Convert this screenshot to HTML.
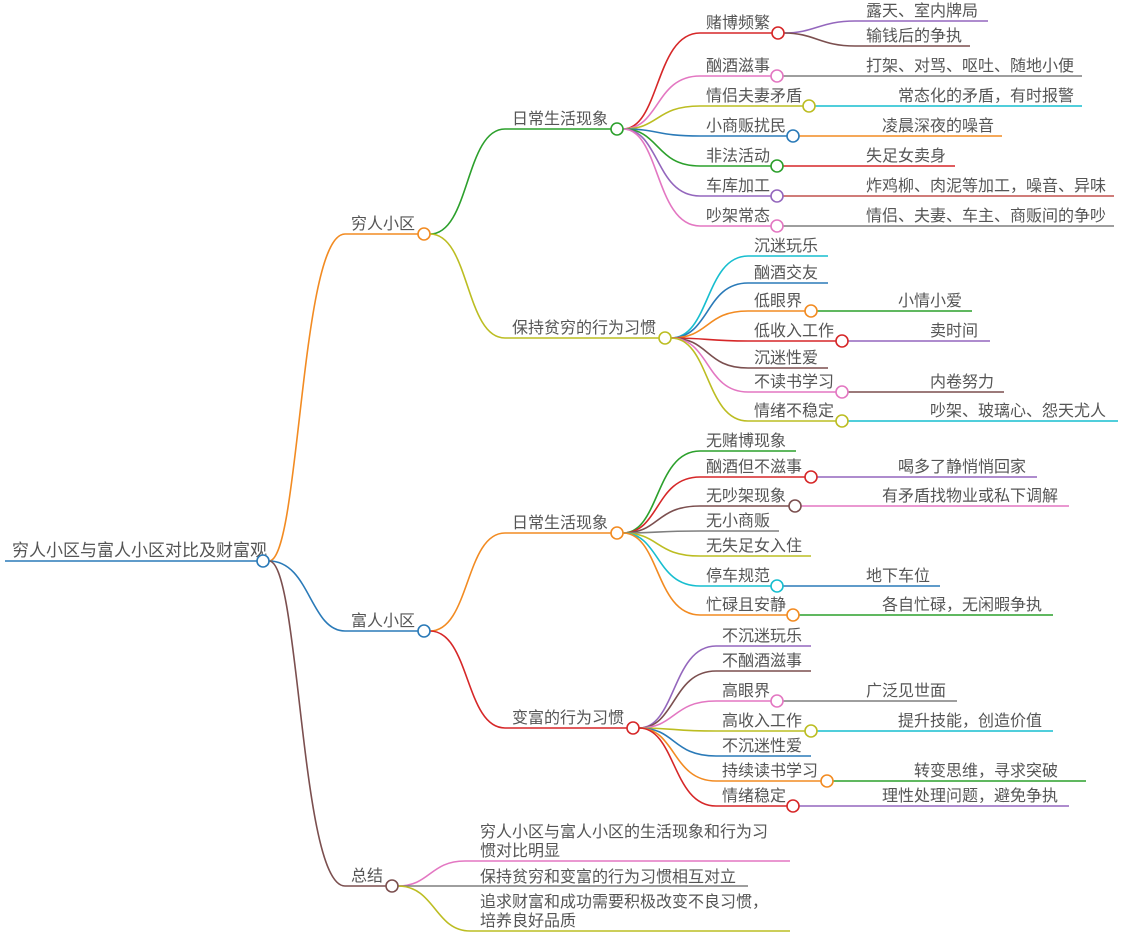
<!DOCTYPE html>
<html><head><meta charset="utf-8"><style>
html,body{margin:0;padding:0;background:#fff;width:1126px;height:937px;overflow:hidden}
svg text{font-family:"Liberation Sans","Noto Sans CJK SC",sans-serif;font-size:16px;fill:#555}
path{fill:none;stroke-width:1.6}
circle{fill:#fff;stroke-width:1.6}
</style></head><body>
<svg width="1126" height="937" viewBox="0 0 1126 937" xmlns="http://www.w3.org/2000/svg">
<path d="M5 561H257" stroke="#2a7ab8"/>
<text x="12" y="556" style="font-size:17px">穷人小区与富人小区对比及财富观</text>
<path d="M269 561C300 561 300 234 345 234H418" stroke="#f28b22"/>
<path d="M269 561C310 561 310 631 345 631H418" stroke="#2a7ab8"/>
<path d="M269 561C300 561 300 886 345 886H386" stroke="#7b4f4f"/>
<text x="351" y="229">穷人小区</text>
<text x="351" y="626">富人小区</text>
<text x="351" y="881">总结</text>
<path d="M430 234C470 234 465 129 505 129H611" stroke="#2ca02c"/>
<path d="M430 234C470 234 465 338 505 338H659" stroke="#bcbd22"/>
<path d="M430 631C470 631 465 533 505 533H611" stroke="#f28b22"/>
<path d="M430 631C470 631 465 728 505 728H627" stroke="#d62728"/>
<text x="512" y="124">日常生活现象</text>
<text x="512" y="333">保持贫穷的行为习惯</text>
<text x="512" y="528">日常生活现象</text>
<text x="512" y="723">变富的行为习惯</text>
<path d="M398 886C430 886 430 861 465 861H790" stroke="#e377c2"/>
<path d="M398 886H748" stroke="#7f7f7f"/>
<path d="M398 886C435 886 435 931 470 931H790" stroke="#bcbd22"/>
<text x="480" y="837">穷人小区与富人小区的生活现象和行为习</text>
<text x="480" y="856">惯对比明显</text>
<text x="480" y="882">保持贫穷和变富的行为习惯相互对立</text>
<text x="480" y="907">追求财富和成功需要积极改变不良习惯，</text>
<text x="480" y="926">培养良好品质</text>

<g>
<path d="M623 129C660 129 655 33 700 33H772" stroke="#d62728"/>
<path d="M623 129C660 129 655 76 700 76H771" stroke="#e377c2"/>
<path d="M623 129C660 129 655 106 700 106H803" stroke="#bcbd22"/>
<path d="M623 129C660 129 655 136 700 136H787" stroke="#2a7ab8"/>
<path d="M623 129C660 129 655 166 700 166H771" stroke="#2ca02c"/>
<path d="M623 129C660 129 655 196 700 196H771" stroke="#9467bd"/>
<path d="M623 129C660 129 655 226 700 226H771" stroke="#e377c2"/>
<text x="706" y="28">赌博频繁</text>
<text x="706" y="71">酗酒滋事</text>
<text x="706" y="101">情侣夫妻矛盾</text>
<text x="706" y="131">小商贩扰民</text>
<text x="706" y="161">非法活动</text>
<text x="706" y="191">车库加工</text>
<text x="706" y="221">吵架常态</text>
<path d="M784 33C815 33 820 21 855 21H988" stroke="#9467bd"/>
<path d="M784 33C815 33 820 46 855 46H970" stroke="#7b4f4f"/>
<path d="M783 76H1082" stroke="#7f7f7f"/>
<path d="M815 106H1082" stroke="#17becf"/>
<path d="M799 136H1002" stroke="#f28b22"/>
<path d="M783 166H955" stroke="#d62728"/>
<path d="M783 196H1114" stroke="#c0504d"/>
<path d="M783 226H1114" stroke="#7f7f7f"/>
<text x="866" y="16">露天、室内牌局</text>
<text x="866" y="41">输钱后的争执</text>
<text x="866" y="71">打架、对骂、呕吐、随地小便</text>
<text x="898" y="101">常态化的矛盾，有时报警</text>
<text x="882" y="131">凌晨深夜的噪音</text>
<text x="866" y="161">失足女卖身</text>
<text x="866" y="191">炸鸡柳、肉泥等加工，噪音、异味</text>
<text x="866" y="221">情侣、夫妻、车主、商贩间的争吵</text>
<circle cx="778" cy="33" r="6" stroke="#d62728"/>
<circle cx="777" cy="76" r="6" stroke="#e377c2"/>
<circle cx="809" cy="106" r="6" stroke="#bcbd22"/>
<circle cx="793" cy="136" r="6" stroke="#2a7ab8"/>
<circle cx="777" cy="166" r="6" stroke="#2ca02c"/>
<circle cx="777" cy="196" r="6" stroke="#9467bd"/>
<circle cx="777" cy="226" r="6" stroke="#e377c2"/>
</g>

<g>
<path d="M671 338C710 338 705 256 748 256H828" stroke="#17becf"/>
<path d="M671 338C710 338 705 283 748 283H828" stroke="#2a7ab8"/>
<path d="M671 338C710 338 705 311 748 311H805" stroke="#f28b22"/>
<path d="M671 338C710 338 705 341 748 341H836" stroke="#d62728"/>
<path d="M671 338C710 338 705 368 748 368H828" stroke="#7b4f4f"/>
<path d="M671 338C710 338 705 392 748 392H836" stroke="#e377c2"/>
<path d="M671 338C710 338 705 421 748 421H836" stroke="#bcbd22"/>
<text x="754" y="251">沉迷玩乐</text>
<text x="754" y="278">酗酒交友</text>
<text x="754" y="306">低眼界</text>
<text x="754" y="336">低收入工作</text>
<text x="754" y="363">沉迷性爱</text>
<text x="754" y="387">不读书学习</text>
<text x="754" y="416">情绪不稳定</text>
<path d="M817 311H972" stroke="#2ca02c"/>
<path d="M848 341H990" stroke="#9467bd"/>
<path d="M848 392H1004" stroke="#7b4f4f"/>
<path d="M848 421H1118" stroke="#17becf"/>
<text x="898" y="306">小情小爱</text>
<text x="930" y="336">卖时间</text>
<text x="930" y="387">内卷努力</text>
<text x="930" y="416">吵架、玻璃心、怨天尤人</text>
<circle cx="811" cy="311" r="6" stroke="#f28b22"/>
<circle cx="842" cy="341" r="6" stroke="#d62728"/>
<circle cx="842" cy="392" r="6" stroke="#e377c2"/>
<circle cx="842" cy="421" r="6" stroke="#bcbd22"/>
</g>

<g>
<path d="M623 533C660 533 655 451 700 451H796" stroke="#2ca02c"/>
<path d="M623 533C660 533 655 477 700 477H805" stroke="#d62728"/>
<path d="M623 533C660 533 655 506 700 506H789" stroke="#7b4f4f"/>
<path d="M623 533C660 533 655 531 700 531H779" stroke="#7f7f7f"/>
<path d="M623 533C660 533 655 556 700 556H811" stroke="#bcbd22"/>
<path d="M623 533C660 533 655 586 700 586H771" stroke="#17becf"/>
<path d="M623 533C660 533 655 615 700 615H787" stroke="#f28b22"/>
<text x="706" y="446">无赌博现象</text>
<text x="706" y="472">酗酒但不滋事</text>
<text x="706" y="501">无吵架现象</text>
<text x="706" y="526">无小商贩</text>
<text x="706" y="551">无失足女入住</text>
<text x="706" y="581">停车规范</text>
<text x="706" y="610">忙碌且安静</text>
<path d="M817 477H1037" stroke="#9467bd"/>
<path d="M801 506H1069" stroke="#e377c2"/>
<path d="M783 586H940" stroke="#2a7ab8"/>
<path d="M799 615H1053" stroke="#2ca02c"/>
<text x="898" y="472">喝多了静悄悄回家</text>
<text x="882" y="501">有矛盾找物业或私下调解</text>
<text x="866" y="581">地下车位</text>
<text x="882" y="610">各自忙碌，无闲暇争执</text>
<circle cx="811" cy="477" r="6" stroke="#d62728"/>
<circle cx="795" cy="506" r="6" stroke="#7b4f4f"/>
<circle cx="777" cy="586" r="6" stroke="#17becf"/>
<circle cx="793" cy="615" r="6" stroke="#f28b22"/>
</g>

<g>
<path d="M639 728C676 728 672 646 716 646H811" stroke="#9467bd"/>
<path d="M639 728C676 728 672 671 716 671H811" stroke="#7b4f4f"/>
<path d="M639 728C676 728 672 701 716 701H771" stroke="#e377c2"/>
<path d="M639 728C676 728 672 731 716 731H805" stroke="#bcbd22"/>
<path d="M639 728C676 728 672 756 716 756H811" stroke="#2a7ab8"/>
<path d="M639 728C676 728 672 781 716 781H821" stroke="#f28b22"/>
<path d="M639 728C676 728 672 806 716 806H787" stroke="#d62728"/>
<text x="722" y="641">不沉迷玩乐</text>
<text x="722" y="666">不酗酒滋事</text>
<text x="722" y="696">高眼界</text>
<text x="722" y="726">高收入工作</text>
<text x="722" y="751">不沉迷性爱</text>
<text x="722" y="776">持续读书学习</text>
<text x="722" y="801">情绪稳定</text>
<path d="M783 701H957" stroke="#7f7f7f"/>
<path d="M817 731H1053" stroke="#17becf"/>
<path d="M833 781H1086" stroke="#2ca02c"/>
<path d="M799 806H1069" stroke="#9467bd"/>
<text x="866" y="696">广泛见世面</text>
<text x="898" y="726">提升技能，创造价值</text>
<text x="914" y="776">转变思维，寻求突破</text>
<text x="882" y="801">理性处理问题，避免争执</text>
<circle cx="777" cy="701" r="6" stroke="#e377c2"/>
<circle cx="811" cy="731" r="6" stroke="#bcbd22"/>
<circle cx="827" cy="781" r="6" stroke="#f28b22"/>
<circle cx="793" cy="806" r="6" stroke="#d62728"/>
</g>

<circle cx="617" cy="129" r="6" stroke="#2ca02c"/>
<circle cx="665" cy="338" r="6" stroke="#bcbd22"/>
<circle cx="617" cy="533" r="6" stroke="#f28b22"/>
<circle cx="633" cy="728" r="6" stroke="#d62728"/>
<circle cx="424" cy="234" r="6" stroke="#f28b22"/>
<circle cx="424" cy="631" r="6" stroke="#2a7ab8"/>
<circle cx="392" cy="886" r="6" stroke="#7b4f4f"/>
<circle cx="263" cy="561" r="6" stroke="#2a7ab8"/>
</svg>
</body></html>
